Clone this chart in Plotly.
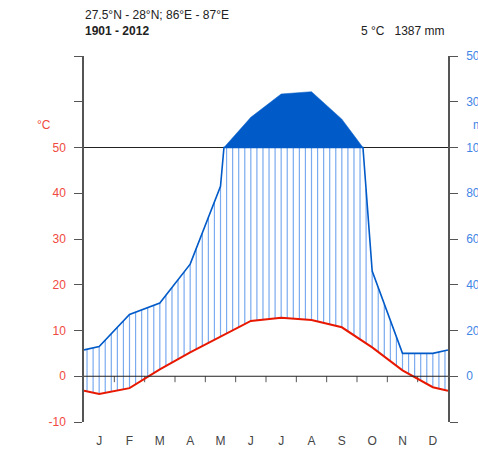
import plotly.graph_objects as go
import numpy as np

months = ["J", "F", "M", "A", "M", "J", "J", "A", "S", "O", "N", "D"]
temp = [-3.9, -2.6, 1.5, 5.2, 8.6, 12.1, 12.8, 12.3, 10.7, 6.3, 1.3, -2.4]
prec = [13, 27, 32, 49, 83, 232, 334, 344, 224, 46, 10, 10]
left_ticks = [-10, 0, 10, 20, 30, 40, 50, 60, 70]
left_text = ["-10", "0", "10", "20", "30", "40", "50", "", ""]
right_text = ["", "0", "20", "40", "60", "80", "100", "300", "500"]
title1 = "27.5°N - 28°N; 86°E - 87°E"
title2 = "1901 - 2012"
summary = "5 °C&nbsp;&nbsp; 1387 mm"

TCOL = "#e81800"
PCOL = "#005ac8"
AXC = "#555555"

# extended series (edges = mean of Dec and Jan)
xe = np.array([0.0] + [i + 0.5 for i in range(12)] + [12.0])
te = np.array([(temp[0] + temp[-1]) / 2] + temp + [(temp[0] + temp[-1]) / 2])
pe_raw = np.array([(prec[0] + prec[-1]) / 2] + prec + [(prec[0] + prec[-1]) / 2], dtype=float)
praw = pe_raw / 2.0  # raw scale: 2 mm per °C
pcomp = np.where(pe_raw > 100, 50 + (pe_raw - 100) / 20.0, pe_raw / 2.0)

# insert crossings at 50 for raw line
lx, ly = [], []
cross = []
for i in range(len(xe) - 1):
    x0, x1, y0, y1 = xe[i], xe[i + 1], praw[i], praw[i + 1]
    lx.append(x0); ly.append(min(y0, 50))
    if (y0 - 50) * (y1 - 50) < 0:
        xc = x0 + (50 - y0) / (y1 - y0) * (x1 - x0)
        lx.append(xc); ly.append(50)
        cross.append(xc)
lx.append(xe[-1]); ly.append(min(praw[-1], 50))

# dark polygon above 100 mm
px, py = [], []
if len(cross) >= 2:
    c0, c1 = cross[0], cross[1]
    px.append(c0); py.append(50)
    for x, v in zip(xe, pcomp):
        if c0 < x < c1:
            px.append(x); py.append(v)
    px.append(c1); py.append(50)
    px.append(c0); py.append(50)

# hatching lines (5 per month)
hx, hy = [], []
for k in range(60):
    x = (k + 0.5) / 5
    t = np.interp(x, xe, te)
    p = min(np.interp(x, xe, praw), 50)
    if p > t:
        hx += [x, x, None]
        hy += [t, p, None]

# month boundary ticks on the zero line
bx, by = [], []
for b in range(1, 12):
    bx += [b, b, None]
    by += [0, -1.3, None]

fig = go.Figure()
fig.add_trace(go.Scatter(x=hx, y=hy, mode="lines", line=dict(color="rgba(50,125,230,0.65)", width=1.2), hoverinfo="skip"))
fig.add_trace(go.Scatter(x=bx, y=by, mode="lines", line=dict(color=AXC, width=1), hoverinfo="skip"))
fig.add_trace(go.Scatter(x=lx, y=ly, mode="lines", line=dict(color=PCOL, width=1.6)))
fig.add_trace(go.Scatter(x=px, y=py, mode="lines", fill="toself", fillcolor=PCOL, line=dict(color=PCOL, width=0.5)))
fig.add_trace(go.Scatter(x=list(xe), y=list(te), mode="lines", line=dict(color=TCOL, width=2)))
fig.add_trace(go.Scatter(x=[0, 12], y=[0, 0], mode="lines", line=dict(color="#222", width=1), yaxis="y2", hoverinfo="skip"))

fig.add_shape(type="line", x0=0, x1=12, y0=50, y1=50, xref="x", yref="y", line=dict(color="#222", width=1), layer="below")

fig.update_layout(
    width=478, height=451,
    margin=dict(l=84, r=30, t=56, b=29, autoexpand=False),
    paper_bgcolor="white", plot_bgcolor="white",
    showlegend=False,
    font=dict(family="Liberation Sans, Arial, sans-serif", size=12, color="#333"),
    xaxis=dict(range=[0, 12], tickvals=[i + 0.5 for i in range(12)], ticktext=months, automargin=False,
               showgrid=False, zeroline=False, showline=False, ticks="", ticklabelstandoff=10,
               tickfont=dict(color="#444", size=12)),
    yaxis=dict(range=[-10, 70], tickvals=left_ticks, ticktext=left_text, showgrid=False, zeroline=False,
               automargin=False,
               showline=True, linecolor=AXC, linewidth=1.5, ticks="outside", ticklen=8, tickcolor=AXC,
               tickfont=dict(color="#f04a40", size=12), ticklabelstandoff=6),
    yaxis2=dict(range=[-10, 70], overlaying="y", side="right", tickvals=left_ticks, ticktext=right_text,
                automargin=False,
                showgrid=False, zeroline=False, showline=True, linecolor=AXC, linewidth=1.5,
                ticks="outside", ticklen=8, tickcolor=AXC, tickfont=dict(color="#3f86e6", size=12),
                ticklabelstandoff=6),
)

fig.add_annotation(text=title1, xref="paper", yref="paper", x=(83 - 84) / 364, y=(422.3 - 15) / 366.4,
                   xanchor="left", yanchor="middle", showarrow=False, font=dict(size=12, color="#222"))
fig.add_annotation(text="<b>" + title2 + "</b>", xref="paper", yref="paper", x=(83 - 84) / 364, y=(422.3 - 31) / 366.4,
                   xanchor="left", yanchor="middle", showarrow=False, font=dict(size=12, color="#222"))
fig.add_annotation(text=summary, xref="paper", yref="paper", x=(447 - 84) / 364, y=(422.3 - 31) / 366.4,
                   xanchor="right", yanchor="middle", showarrow=False, font=dict(size=12, color="#222"))
fig.add_annotation(text="°C", xref="paper", yref="paper", x=(44 - 84) / 364, y=(422.3 - 125) / 366.4,
                   xanchor="center", yanchor="middle", showarrow=False, font=dict(size=12, color="#f04a40"))
fig.add_annotation(text="mm", xref="paper", yref="paper", x=(471 - 84) / 364, y=(422.3 - 125) / 366.4,
                   xanchor="left", yanchor="middle", showarrow=False, font=dict(size=12, color="#3f86e6"))

fig.write_html("out.html")
